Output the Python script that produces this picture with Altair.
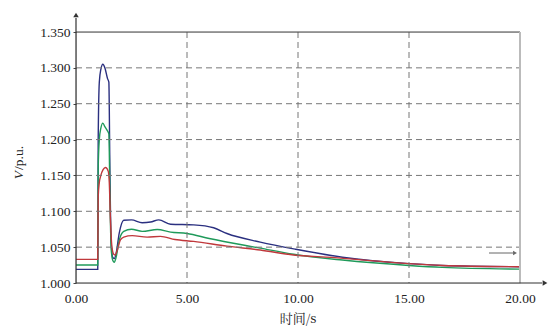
import altair as alt
import pandas as pd

t_blue = [0.0, 0.98, 1.0, 1.05, 1.12, 1.21, 1.3, 1.42, 1.48, 1.53, 1.58, 1.65, 1.72, 1.8, 1.95, 2.15, 2.5, 2.98, 3.36, 3.73, 4.26, 5.3, 6.2, 6.8, 8.3, 9.9, 12.0, 15.0, 16.5, 20.0]
v_blue = [1.019, 1.019, 1.200, 1.280, 1.298, 1.305, 1.300, 1.285, 1.280, 1.150, 1.060, 1.036, 1.034, 1.040, 1.070, 1.0875, 1.088, 1.084, 1.085, 1.088, 1.082, 1.081, 1.077, 1.069, 1.057, 1.047, 1.036, 1.027, 1.0245, 1.0227]

t_green = [0.0, 0.98, 1.0, 1.05, 1.12, 1.21, 1.3, 1.42, 1.48, 1.53, 1.58, 1.65, 1.72, 1.8, 1.95, 2.15, 2.5, 2.98, 3.66, 4.26, 5.0, 6.0, 8.3, 9.8, 12.0, 15.0, 16.5, 20.0]
v_green = [1.025, 1.025, 1.160, 1.200, 1.216, 1.223, 1.218, 1.212, 1.208, 1.120, 1.050, 1.032, 1.029, 1.035, 1.060, 1.072, 1.075, 1.072, 1.0745, 1.071, 1.069, 1.062, 1.0486, 1.040, 1.032, 1.0245, 1.0218, 1.0194]

t_red = [0.0, 0.98, 1.0, 1.05, 1.12, 1.22, 1.33, 1.45, 1.5, 1.55, 1.62, 1.7, 1.77, 1.85, 2.0, 2.15, 2.53, 3.2, 3.8, 4.46, 5.3, 6.8, 8.3, 9.8, 11.5, 15.0, 16.5, 20.0]
v_red = [1.033, 1.033, 1.120, 1.140, 1.150, 1.158, 1.161, 1.156, 1.140, 1.090, 1.050, 1.040, 1.039, 1.045, 1.060, 1.064, 1.066, 1.064, 1.065, 1.0607, 1.058, 1.0514, 1.046, 1.039, 1.0357, 1.027, 1.0245, 1.0227]

series = ["blue", "green", "red"]
colors = ["#2b3080", "#1f9a5a", "#c0383c"]

x_ticks = [0, 5, 10, 15, 20]
y_ticks = [1.0, 1.05, 1.1, 1.15, 1.2, 1.25, 1.3, 1.35]

rows = []
for name, ts, vs in [("blue", t_blue, v_blue), ("green", t_green, v_green), ("red", t_red, v_red)]:
    for i, (t, v) in enumerate(zip(ts, vs)):
        rows.append({"s": name, "t": t, "v": v, "o": i})
df = pd.DataFrame(rows)

W, H = 444, 251
FONT = "Times New Roman, Liberation Serif, DejaVu Serif, serif"
CJK = "Noto Serif CJK SC, Noto Sans CJK SC, serif"

xs = alt.Scale(domain=[0, 20], nice=False)
ys = alt.Scale(domain=[1.0, 1.35], nice=False)

def x_axis():
    return alt.Axis(
        values=x_ticks, format=".2f", title=None, grid=False, domain=False,
        ticks=False, labelFont=FONT, labelFontSize=13.5, labelColor="#222",
        labelPadding=8, labelFlush=False, labelOverlap=False)

def y_axis():
    return alt.Axis(
        values=y_ticks, format=".3f", title=None, grid=False, domain=False,
        tickSize=3, tickColor="#444", labelFont=FONT, labelFontSize=13.5,
        labelColor="#222", labelPadding=3, labelOverlap=False, labelFlush=False)

lines = alt.Chart(df).mark_line(strokeWidth=1.4, interpolate="monotone").encode(
    x=alt.X("t:Q", scale=xs, axis=x_axis()),
    y=alt.Y("v:Q", scale=ys, axis=y_axis()),
    color=alt.Color("s:N", scale=alt.Scale(domain=series, range=colors), legend=None),
    order="o:Q",
)

grid_y = pd.DataFrame({"v": [1.05, 1.1, 1.15, 1.2, 1.25, 1.3]})
hgrid = alt.Chart(grid_y).mark_rule(color="#777", strokeDash=[6, 4], strokeWidth=1).encode(
    y=alt.Y("v:Q", scale=ys, axis=y_axis()), x=alt.value(0), x2=alt.value(W))

grid_x = pd.DataFrame({"t": [5, 10, 15]})
vgrid = alt.Chart(grid_x).mark_rule(color="#777", strokeDash=[6, 4], strokeWidth=1).encode(
    x=alt.X("t:Q", scale=xs, axis=x_axis()), y=alt.value(0), y2=alt.value(H))

top_border = alt.Chart(pd.DataFrame({"v": [1.35]})).mark_rule(color="#444", strokeWidth=1.2).encode(
    y=alt.Y("v:Q", scale=ys, axis=y_axis()), x=alt.value(0), x2=alt.value(W))
right_border = alt.Chart(pd.DataFrame({"t": [20]})).mark_rule(color="#bbb", strokeWidth=2).encode(
    x=alt.X("t:Q", scale=xs, axis=x_axis()), y=alt.value(0), y2=alt.value(H))

one = pd.DataFrame({"a": [0]})
left_axis = alt.Chart(one).mark_rule(color="#333", strokeWidth=1.2, clip=False).encode(
    x=alt.value(0), y=alt.value(H), y2=alt.value(-14))
left_arrow = alt.Chart(one).mark_point(shape="triangle-up", filled=True, color="#333", size=30, opacity=1, clip=False).encode(
    x=alt.value(0), y=alt.value(-17))
bottom_axis = alt.Chart(one).mark_rule(color="#333", strokeWidth=1.2, clip=False).encode(
    y=alt.value(H), x=alt.value(0), x2=alt.value(466))
bottom_arrow = alt.Chart(one).mark_point(shape="triangle-right", filled=True, color="#333", size=30, opacity=1, clip=False).encode(
    y=alt.value(H), x=alt.value(469))

small_arrow_line = alt.Chart(one).mark_rule(color="#666", strokeWidth=1).encode(
    y=alt.value(221), x=alt.value(413), x2=alt.value(437))
small_arrow_head = alt.Chart(one).mark_point(shape="triangle-right", filled=True, color="#666", size=20, opacity=1).encode(
    y=alt.value(221), x=alt.value(439))

xtitle = alt.Chart(one).mark_text(font=CJK, fontSize=13, color="#222", text="时间/s", clip=False).encode(
    x=alt.value(W / 2), y=alt.value(H + 36))
ytitle_v = alt.Chart(one).mark_text(font=FONT, fontSize=13.5, fontStyle="italic", color="#222", text="V", angle=270, clip=False).encode(
    x=alt.value(-57), y=alt.value(143))
ytitle_rest = alt.Chart(one).mark_text(font=FONT, fontSize=13.5, color="#222", text="/p.u.", angle=270, align="left", clip=False).encode(
    x=alt.value(-57), y=alt.value(138))

chart = alt.layer(
    lines, hgrid, vgrid, top_border, right_border,
    left_axis, left_arrow, bottom_axis, bottom_arrow,
    small_arrow_line, small_arrow_head, xtitle, ytitle_v, ytitle_rest,
).properties(
    width=W, height=H,
    autosize=alt.AutoSizeParams(type="none"),
    padding={"left": 76, "top": 32, "right": 32, "bottom": 43},
).configure_view(stroke=None).configure(background="white")

chart.save("out.html", embed_options={"renderer": "svg", "actions": False})
